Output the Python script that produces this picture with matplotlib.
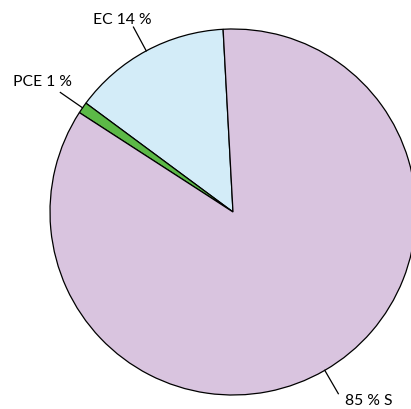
import numpy as np
import matplotlib.pyplot as plt

# pie data
names = ['EC', 'PCE', 'S']
shares = [14, 1, 85]
labels = ['EC 14 %', 'PCE 1 %', '85 % S']
colors = ['#d3ecf8', '#5cb947', '#d9c4df']

W, H = 411, 409
fig = plt.figure(figsize=(W / 100, H / 100), dpi=100)
ax = fig.add_axes([0, 0, 1, 1])

cx, cy, r = 233, H - 212, 183
start = 93.1
wedges, _ = ax.pie(shares, colors=colors, startangle=start, counterclock=True,
                   center=(cx, cy), radius=r, frame=True,
                   wedgeprops=dict(edgecolor='black', linewidth=0.9))
ax.set_xlim(0, W)
ax.set_ylim(0, H)
ax.axis('off')

# leader lines from the middle of each wedge, text placed at the outer end
text_pos = [(122, H - 20), (42, H - 82), (369, H - 401)]
for w, lab, (tx, ty) in zip(wedges, labels, text_pos):
    a = np.deg2rad((w.theta1 + w.theta2) / 2)
    x0, y0 = cx + r * np.cos(a), cy + r * np.sin(a)
    x1, y1 = cx + 210 * np.cos(a), cy + 210 * np.sin(a)
    ax.plot([x0, x1], [y0, y1], color='black', lw=0.9)
    ax.text(tx, ty, lab, ha='center', va='center', fontsize=11.3, family='Lato')

fig.savefig('out.png', dpi=100)
